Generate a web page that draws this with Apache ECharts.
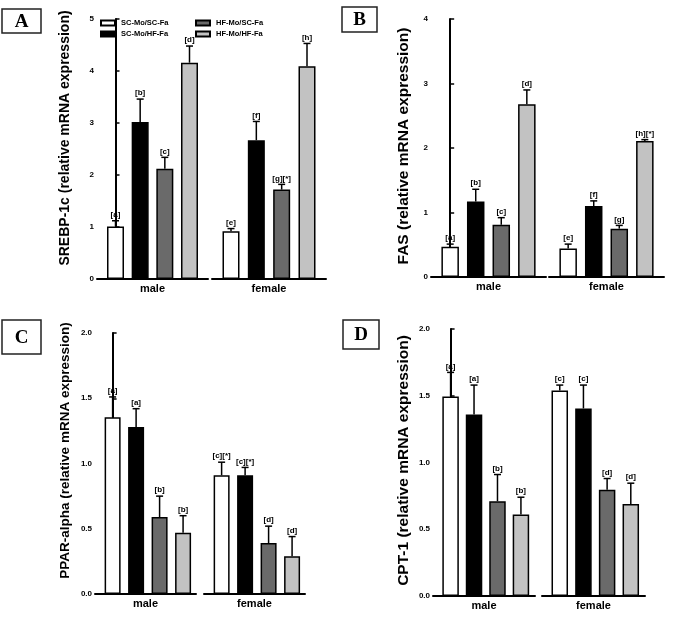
<!DOCTYPE html>
<html>
<head>
<meta charset="utf-8">
<title>mRNA expression</title>
<script src="https://cdn.jsdelivr.net/npm/echarts@6/dist/echarts.min.js"></script>
<style>
	html, body { margin: 0; padding: 0; background: #fff; }
	#main { width: 676px; height: 618px; }
</style>
</head>
<body>
<div id="main"></div>
<script>
	var groups = ['SC-Mo/SC-Fa', 'SC-Mo/HF-Fa', 'HF-Mo/SC-Fa', 'HF-Mo/HF-Fa'];
	var sexes = ['male', 'female'];

	// A - SREBP-1c
	var srebpMale = [1.01, 3.02, 2.12, 4.16];
	var srebpMaleErr = [0.11, 0.44, 0.22, 0.32];
	var srebpFemale = [0.92, 2.67, 1.72, 4.09];
	var srebpFemaleErr = [0.05, 0.36, 0.10, 0.44];
	var srebpMaleLbl = ['[a]', '[b]', '[c]', '[d]'];
	var srebpFemaleLbl = ['[e]', '[f]', '[g][*]', '[h]'];
	var srebpTicks = ['0', '1', '2', '3', '4', '5'];

	// B - FAS
	var fasMale = [0.47, 1.17, 0.81, 2.68];
	var fasMaleErr = [0.04, 0.19, 0.11, 0.22];
	var fasFemale = [0.44, 1.10, 0.75, 2.11];
	var fasFemaleErr = [0.07, 0.08, 0.05, 0.02];
	var fasMaleLbl = ['[a]', '[b]', '[c]', '[d]'];
	var fasFemaleLbl = ['[e]', '[f]', '[g]', '[h][*]'];
	var fasTicks = ['0', '1', '2', '3', '4'];

	// C - PPAR-alpha
	var pparMale = [1.355, 1.28, 0.59, 0.47];
	var pparMaleErr = [0.155, 0.14, 0.16, 0.13];
	var pparFemale = [0.91, 0.91, 0.39, 0.29];
	var pparFemaleErr = [0.10, 0.06, 0.13, 0.15];
	var pparMaleLbl = ['[a]', '[a]', '[b]', '[b]'];
	var pparFemaleLbl = ['[c][*]', '[c][*]', '[d]', '[d]'];
	var pparTicks = ['0.0', '0.5', '1.0', '1.5', '2.0'];

	// D - CPT-1
	var cptMale = [1.495, 1.36, 0.71, 0.61];
	var cptMaleErr = [0.18, 0.22, 0.20, 0.13];
	var cptFemale = [1.54, 1.405, 0.795, 0.69];
	var cptFemaleErr = [0.04, 0.175, 0.085, 0.155];
	var cptMaleLbl = ['[a]', '[a]', '[b]', '[b]'];
	var cptFemaleLbl = ['[c]', '[c]', '[d]', '[d]'];
	var cptTicks = ['0.0', '0.5', '1.0', '1.5', '2.0'];

	var barColors = ['#ffffff', '#000000', '#6a6a6a', '#c2c2c2'];
	var FONT = '"Liberation Sans", Arial, sans-serif';

	// layout of the four panels (pixels)
	var panels = [
		{letter: 'A', box: [2, 9, 39, 24], title: 'SREBP-1c (relative mRNA expression)', titleSize: 14, nameGap: 25, shift: 22,
			vals: [srebpMale, srebpFemale], errs: [srebpMaleErr, srebpFemaleErr], lbls: [srebpMaleLbl, srebpFemaleLbl],
			ticks: srebpTicks, max: 5, interval: 1, top: 19, bottom: 279, grids: [[97, 208], [212, 326]], xMax: 3.75, barW: 17},
		{letter: 'B', box: [342, 7, 35, 25], title: 'FAS (relative mRNA expression)', titleSize: 15.5, nameGap: 19, shift: 4,
			vals: [fasMale, fasFemale], errs: [fasMaleErr, fasFemaleErr], lbls: [fasMaleLbl, fasFemaleLbl],
			ticks: fasTicks, max: 4, interval: 1, top: 19, bottom: 277, grids: [[431, 546], [549, 664]], xMax: 3.75, barW: 17.5},
		{letter: 'C', box: [2, 320, 39, 34], title: 'PPAR-alpha (relative mRNA expression)', titleSize: 13.5, nameGap: 23, shift: 26,
			vals: [pparMale, pparFemale], errs: [pparMaleErr, pparFemaleErr], lbls: [pparMaleLbl, pparFemaleLbl],
			ticks: pparTicks, max: 2, interval: 0.5, top: 333, bottom: 594, grids: [[95, 196], [204, 305]], xMax: 3.55, barW: 16},
		{letter: 'D', box: [343, 320, 36, 29], title: 'CPT-1 (relative mRNA expression)', titleSize: 15.5, nameGap: 21, shift: 4,
			vals: [cptMale, cptFemale], errs: [cptMaleErr, cptFemaleErr], lbls: [cptMaleLbl, cptFemaleLbl],
			ticks: cptTicks, max: 2, interval: 0.5, top: 329, bottom: 596, grids: [[433, 535], [542, 645]], xMax: 3.6, barW: 16.5}
	];

	var grids = [], xAxes = [], yAxes = [], series = [], graphics = [];

	function errorRenderer(lbls) {
		return function(params, api) {
			var i = api.value(0), v = api.value(1), e = api.value(2);
			var p0 = api.coord([i, v]);
			var p1 = api.coord([i, v + e]);
			return {
				type: 'group',
				children: [
					{type: 'line', shape: {x1: p0[0], y1: p0[1], x2: p1[0], y2: p1[1]}, style: {stroke: '#000', lineWidth: 1.5}},
					{type: 'line', shape: {x1: p1[0] - 3.5, y1: p1[1], x2: p1[0] + 3.5, y2: p1[1]}, style: {stroke: '#000', lineWidth: 1.5}},
					{type: 'text', x: p1[0], y: p1[1] - 2, style: {text: lbls[params.dataIndex], fill: '#000',
						font: 'bold 8px ' + FONT, align: 'center', verticalAlign: 'bottom'}}
				]
			};
		};
	}

	panels.forEach(function(p) {
		for (var s = 0; s < 2; s++) {
			var idx = grids.length;
			var g = p.grids[s];
			grids.push({left: g[0], top: p.top, width: g[1] - g[0], height: p.bottom - p.top});
			xAxes.push({
				gridIndex: idx, type: 'value', min: -0.75, max: p.xMax,
				name: sexes[s], nameLocation: 'middle', nameGap: 4,
				nameTextStyle: {fontSize: 11, fontWeight: 'bold', color: '#000', fontFamily: FONT, verticalAlign: 'top'},
				axisLine: {onZero: false, lineStyle: {color: '#000', width: 2}},
				axisTick: {show: false}, axisLabel: {show: false}, splitLine: {show: false}
			});
			var ticks = p.ticks, itv = p.interval;
			yAxes.push({
				gridIndex: idx, type: 'value', min: 0, max: p.max, interval: p.interval,
				show: s === 0,
				name: s === 0 ? p.title : '', nameLocation: 'middle', nameGap: p.nameGap,
				nameTextStyle: {fontSize: p.titleSize, fontWeight: 'bold', color: '#000', fontFamily: FONT, padding: [0, 0, 0, p.shift]},
				axisLine: {show: true, lineStyle: {color: '#000', width: 2}},
				axisTick: {show: true, inside: true, length: 4, lineStyle: {color: '#000', width: 1.5}},
				axisLabel: {fontSize: 8, fontWeight: 'bold', color: '#000', fontFamily: FONT, margin: 3,
					formatter: (function(t, iv) { return function(v) { return t[Math.round(v / iv)]; }; })(ticks, itv)},
				splitLine: {show: false}
			});
			for (var i = 0; i < groups.length; i++) {
				series.push({
					type: 'bar', name: groups[i], xAxisIndex: idx, yAxisIndex: idx,
					barWidth: p.barW, barGap: '-100%', silent: true,
					itemStyle: {color: barColors[i], borderColor: '#000', borderWidth: 1.5},
					data: [[i, p.vals[s][i]]]
				});
			}
			var errData = p.vals[s].map(function(v, k) { return [k, v, p.errs[s][k]]; });
			series.push({
				type: 'custom', xAxisIndex: idx, yAxisIndex: idx, z: 5, silent: true,
				renderItem: errorRenderer(p.lbls[s]),
				encode: {x: 0, y: 1},
				data: errData
			});
		}
		graphics.push({
			type: 'rect', shape: {x: p.box[0], y: p.box[1], width: p.box[2], height: p.box[3]},
			style: {fill: '#fff', stroke: '#222', lineWidth: 1.5}
		});
		graphics.push({
			type: 'text', x: p.box[0] + p.box[2] / 2, y: p.box[1] + p.box[3] / 2 + 1,
			style: {text: p.letter, font: 'bold 19px "Liberation Serif", "Times New Roman", serif', fill: '#000',
				align: 'center', verticalAlign: 'middle'}
		});
	});

	var legendBase = {
		orient: 'vertical', top: 19, itemWidth: 14, itemHeight: 5, itemGap: 3, icon: 'rect',
		selectedMode: false, padding: 0,
		textStyle: {fontSize: 7.5, fontWeight: 'bold', color: '#000', fontFamily: FONT, padding: [0, 0, 0, 1]}
	};

	var myChart = echarts.init(document.getElementById('main'));
	myChart.setOption({
		animation: false,
		backgroundColor: '#fff',
		legend: [
			Object.assign({}, legendBase, {left: 100, data: [groups[0], groups[1]]}),
			Object.assign({}, legendBase, {left: 195, data: [groups[2], groups[3]]})
		],
		grid: grids,
		xAxis: xAxes,
		yAxis: yAxes,
		series: series,
		graphic: graphics
	});
</script>
</body>
</html>
